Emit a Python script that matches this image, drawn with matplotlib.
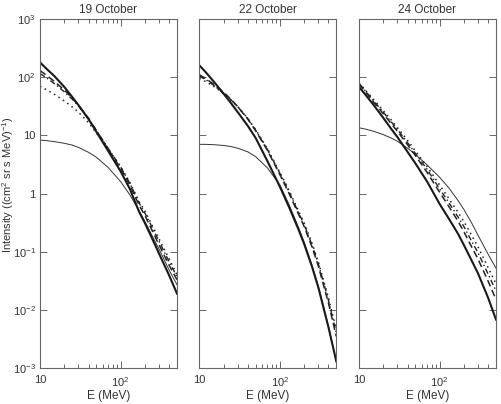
import numpy as np
import matplotlib
matplotlib.use("Agg")
import matplotlib.pyplot as plt
from matplotlib.ticker import FixedLocator, FixedFormatter, NullFormatter

plt.rcParams['font.family'] = ['Liberation Sans', 'DejaVu Sans']
plt.rcParams['mathtext.fontset'] = 'custom'
plt.rcParams['mathtext.rm'] = 'Liberation Sans'
plt.rcParams['mathtext.it'] = 'Liberation Sans:italic'

energy = [10, 12, 15, 20, 25, 30, 40, 50, 70, 100, 130, 170, 200, 250, 300, 400, 500]

titles = ['19 October', '22 October', '24 October']

# 19 October
oct19_thick = [180, 140, 105, 68, 46, 33, 19, 11.5, 5.4, 2.4, 1.2, 0.48, 0.31, 0.16, 0.092, 0.039, 0.019]
oct19_dash = [130, 108, 85, 60, 44, 33, 19.5, 12, 5.8, 2.7, 1.4, 0.62, 0.42, 0.22, 0.13, 0.058, 0.033]
oct19_dashdot = [115, 98, 78, 56, 42, 32, 19.5, 12.2, 6.0, 2.85, 1.5, 0.68, 0.46, 0.25, 0.15, 0.067, 0.037]
oct19_dot = [70, 61, 51, 39, 31, 25, 16.5, 11, 5.8, 2.9, 1.55, 0.72, 0.5, 0.27, 0.165, 0.075, 0.04]
oct19_thin = [8.3, 8.1, 7.8, 7.3, 6.8, 6.2, 5.1, 4.2, 2.8, 1.6, 0.95, 0.5, 0.33, 0.18, 0.11, 0.048, 0.027]

# 22 October
oct22_thick = [160, 122, 85, 52, 35, 25, 14.5, 9.0, 3.6, 1.3, 0.58, 0.24, 0.135, 0.055, 0.024, 0.005, 0.0013]
oct22_dash = [110, 95, 76, 55, 41, 31, 19, 12, 5.5, 2.1, 1.0, 0.44, 0.27, 0.12, 0.056, 0.013, 0.0035]
oct22_dashdot = [104, 91, 73, 53, 40, 31, 19.2, 12.2, 5.7, 2.2, 1.06, 0.47, 0.29, 0.13, 0.061, 0.0145, 0.004]
oct22_dot = [95, 84, 70, 52, 40, 31, 19.5, 12.5, 5.9, 2.3, 1.12, 0.5, 0.31, 0.14, 0.066, 0.016, 0.0046]
oct22_thin = [7.0, 7.0, 6.9, 6.7, 6.4, 6.0, 5.2, 4.3, 2.75, 1.4, 0.64, 0.26, 0.145, 0.058, 0.025, 0.0052, 0.0013]

# 24 October
oct24_thick = [68, 50, 34, 20, 13, 9.3, 5.2, 3.3, 1.6, 0.66, 0.37, 0.2, 0.13, 0.07, 0.042, 0.016, 0.0068]
oct24_dash = [76, 56, 38, 23.5, 16, 11.7, 6.9, 4.5, 2.3, 1.05, 0.6, 0.33, 0.22, 0.12, 0.074, 0.031, 0.015]
oct24_dashdot = [78, 58, 40, 25, 17.2, 12.6, 7.5, 4.9, 2.6, 1.2, 0.7, 0.39, 0.27, 0.15, 0.095, 0.041, 0.021]
oct24_dot = [80, 60, 42, 26.5, 18.5, 13.5, 8.2, 5.4, 2.9, 1.4, 0.82, 0.47, 0.33, 0.19, 0.12, 0.053, 0.028]
oct24_thin = [13.5, 12.8, 11.8, 10.3, 9.0, 7.9, 6.0, 4.7, 3.1, 1.9, 1.25, 0.75, 0.53, 0.31, 0.19, 0.09, 0.052]

panels = [
    (oct19_thick, oct19_dash, oct19_dashdot, oct19_dot, oct19_thin),
    (oct22_thick, oct22_dash, oct22_dashdot, oct22_dot, oct22_thin),
    (oct24_thick, oct24_dash, oct24_dashdot, oct24_dot, oct24_thin),
]

ytick_vals = [1e-3, 1e-2, 1e-1, 1, 10, 1e2, 1e3]
ytick_labels = ['$10^{-3}$', '$10^{-2}$', '$10^{-1}$', '1', '10', '$10^{2}$', '$10^{3}$']

fig = plt.figure(figsize=(5.02, 4.04), dpi=100)
lefts = [40 / 502, 199.3 / 502, 359 / 502]
gray = '#666666'
txt = '#333333'

for i, (thick, dash, dashdot, dot, thin) in enumerate(panels):
    ax = fig.add_axes([lefts[i], 36 / 404, 137 / 502, 349 / 404])
    ax.plot(energy, thin, color='#333333', lw=0.7)
    ax.plot(energy, dot, color='#222222', lw=1.1, ls=(0, (1, 2.5)))
    ax.plot(energy, dashdot, color='#222222', lw=1.0, ls=(0, (4, 2, 1, 2)))
    ax.plot(energy, dash, color='#222222', lw=1.1, ls=(0, (4.5, 2.5)))
    ax.plot(energy, thick, color='#1a1a1a', lw=1.5)
    ax.set_xscale('log')
    ax.set_yscale('log')
    ax.set_xlim(10, 500)
    ax.set_ylim(1e-3, 1e3)
    for s in ax.spines.values():
        s.set_color(gray)
        s.set_linewidth(0.8)
    ax.xaxis.set_major_locator(FixedLocator([10, 100]))
    ax.xaxis.set_major_formatter(FixedFormatter(['10', '$10^{2}$']))
    ax.xaxis.set_minor_locator(FixedLocator([20, 30, 40, 50, 60, 70, 80, 90, 200, 300, 400]))
    ax.xaxis.set_minor_formatter(NullFormatter())
    ax.yaxis.set_major_locator(FixedLocator(ytick_vals))
    ax.yaxis.set_minor_locator(FixedLocator([]))
    if i == 0:
        ax.yaxis.set_major_formatter(FixedFormatter(ytick_labels))
        ax.set_ylabel('Intensity ((cm$^{2}$ sr s MeV)$^{-1}$)', fontsize=8, color=txt)
        ax.yaxis.set_label_coords(-0.172, 0.525)
    else:
        ax.yaxis.set_major_formatter(NullFormatter())
    ax.tick_params(which='both', direction='in', top=True, right=True, colors=gray,
                   labelcolor=txt, labelsize=8, width=0.7)
    ax.tick_params(which='major', length=5, pad=3)
    ax.tick_params(which='minor', length=3)
    ax.tick_params(axis='x', which='major', pad=5)
    ax.set_xlabel('E (MeV)', fontsize=8.5, color=txt, labelpad=1)
    ax.set_title(titles[i], fontsize=8.5, color=txt, pad=4)

fig.savefig('out.png', dpi=100)
